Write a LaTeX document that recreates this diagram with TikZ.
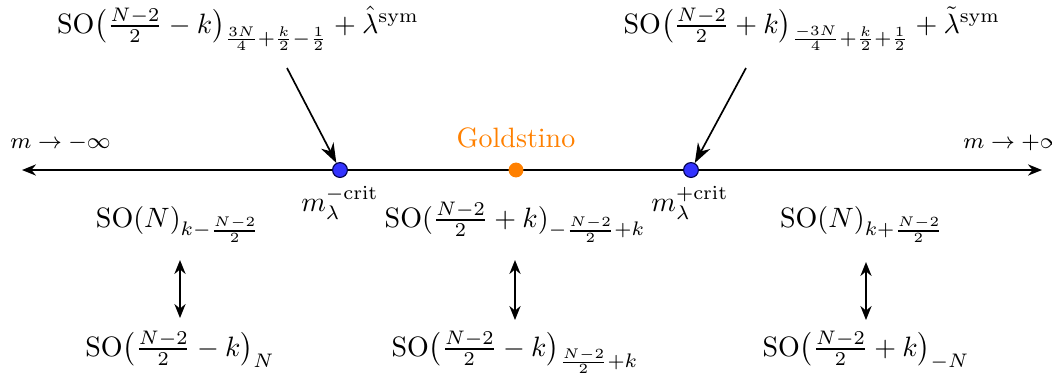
\documentclass[tikz,border=0pt]{standalone}
\usetikzlibrary{arrows.meta}
\begin{document}
\begin{tikzpicture}[x=0.357pt,y=-0.357pt,
  arr/.style={-{Stealth[length=7pt,width=5pt]},semithick},
  darr/.style={{Stealth[length=5pt,width=4pt]}-{Stealth[length=5pt,width=4pt]},semithick},
  bdot/.style={circle,draw=black!70!blue,fill=blue!80,inner sep=0pt,minimum size=5.3pt},
  odot/.style={circle,fill=orange,inner sep=0pt,minimum size=5.3pt},
  lab/.style={inner sep=1pt},
  blab/.style={inner sep=0pt,anchor=base}]
\useasboundingbox (0,0) rectangle (1052,374);
\coordinate (L) at (22,170);
\coordinate (R) at (1042,170);
\draw[darr] (L) -- (R);
\node[bdot] (pm) at (340,170) {};
\node[odot] (g) at (516,170) {};
\node[bdot] (pp) at (691,170) {};
\node[blab] (tl) at (238,33) {$\mathrm{SO}\big(\frac{N-2}{2}-k\big)_{\frac{3N}{4}+\frac{k}{2}-\frac12}+\hat\lambda^{\mathrm{sym}}$};
\node[blab] (tr) at (812,33) {$\mathrm{SO}\big(\frac{N-2}{2}+k\big)_{\frac{-3N}{4}+\frac{k}{2}+\frac12}+\tilde\lambda^{\mathrm{sym}}$};
\coordinate (a1) at (287,68);
\coordinate (a2) at (746,68);
\draw[arr] (a1) -- (pm);
\draw[arr] (a2) -- (pp);
\node[lab,anchor=west,font=\footnotesize] (mi) at (7,143) {$m\to-\infty$};
\node[lab,anchor=west,font=\footnotesize] (pi) at (960,143) {$m\to+\infty$};
\node[lab,text=orange] (gl) at (516,138) {Goldstino};
\node[lab] (mcm) at (340,203) {$m_\lambda^{-\mathrm{crit}}$};
\node[lab] (mcp) at (690,203) {$m_\lambda^{+\mathrm{crit}}$};
\node[blab] (s1) at (178,227) {$\mathrm{SO}(N)_{k-\frac{N-2}{2}}$};
\node[blab] (s2) at (515,227) {$\mathrm{SO}(\frac{N-2}{2}+k)_{-\frac{N-2}{2}+k}$};
\node[blab] (s3) at (862,227) {$\mathrm{SO}(N)_{k+\frac{N-2}{2}}$};
\node[blab] (b1) at (180,356) {$\mathrm{SO}\big(\frac{N-2}{2}-k\big)_N$};
\node[blab] (b2) at (515,356) {$\mathrm{SO}\big(\frac{N-2}{2}-k\big)_{\frac{N-2}{2}+k}$};
\node[blab] (b3) at (866,356) {$\mathrm{SO}\big(\frac{N-2}{2}+k\big)_{-N}$};
\coordinate (u1) at (180,260); \coordinate (d1) at (180,318);
\coordinate (u2) at (515,260); \coordinate (d2) at (515,320);
\coordinate (u3) at (866,262); \coordinate (d3) at (866,320);
\draw[darr] (u1) -- (d1);
\draw[darr] (u2) -- (d2);
\draw[darr] (u3) -- (d3);
\end{tikzpicture}
\end{document}
